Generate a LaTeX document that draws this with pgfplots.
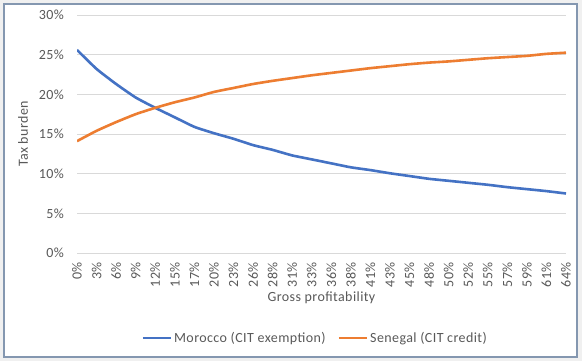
\documentclass[border=0pt]{standalone}
\usepackage{pgfplots}
\pgfplotsset{compat=1.18}
\usepackage{fontspec}
\setmainfont{Carlito}[LetterSpace=3]
\definecolor{txt}{HTML}{595959}
\definecolor{grd}{HTML}{D9D9D9}
\definecolor{mblue}{HTML}{4472C4}
\definecolor{morange}{HTML}{ED7D31}
\definecolor{framec}{HTML}{8497B0}
\definecolor{outerc}{HTML}{F0F0F0}
\newcommand{\fs}{\fontsize{14bp}{16bp}\selectfont}
\begin{document}
\begin{tikzpicture}
\fill[outerc] (0bp,0bp) rectangle (582bp,361bp);
\fill[white] (4bp,4bp) rectangle (577bp,357bp);
\draw[framec, line width=1.2bp] (4bp,4bp) rectangle (577bp,357bp);
\begin{axis}[
  at={(77bp,108bp)}, anchor=south west,
  scale only axis, width=489bp, height=238bp,
  xmin=0, xmax=25, ymin=0, ymax=30,
  axis line style={draw=none},
  major tick length=0pt,
  ymajorgrids, grid style={grd, line width=0.75bp},
  ytick={0,5,10,15,20,25,30},
  yticklabels={0\%,5\%,10\%,15\%,20\%,25\%,30\%},
  xtick={0,...,25},
  xticklabels={0\%,3\%,6\%,9\%,12\%,15\%,17\%,20\%,23\%,26\%,28\%,31\%,33\%,36\%,38\%,41\%,43\%,45\%,48\%,50\%,52\%,55\%,57\%,59\%,61\%,64\%},
  tick label style={font=\fs, text=txt},
  yticklabel style={inner sep=0pt, anchor=east, xshift=-13bp},
  xticklabel style={inner sep=0pt, yshift=-9bp, rotate=90, anchor=east},
  xlabel={Gross profitability}, ylabel={Tax burden},
  every axis x label/.style={at={(axis description cs:0.5,0)}, yshift=-45bp, anchor=center, font=\fs, text=txt},
  every axis y label/.style={at={(axis description cs:0,0.5)}, xshift=-54bp, rotate=90, anchor=center, font=\fs, text=txt},
  legend columns=2,
  legend style={at={(axis description cs:0.487,-0.357)}, anchor=center, draw=none, fill=none,
    font=\fs, text=txt,
    /tikz/every even column/.append style={column sep=10bp}},
  legend cell align=left,
  legend image code/.code={\draw[#1] (0bp,0bp) -- (28bp,0bp);},
  every axis plot/.append style={line width=2.6bp, line join=round},
]
\addplot[mblue, smooth, tension=0.3] coordinates {
(0,25.6) (1,23.2) (2,21.3) (3,19.6) (4,18.3) (5,17.1) (6,15.9) (7,15.1) (8,14.4) (9,13.6)
(10,13.0) (11,12.3) (12,11.8) (13,11.3) (14,10.8) (15,10.45) (16,10.05) (17,9.7) (18,9.35)
(19,9.1) (20,8.85) (21,8.6) (22,8.3) (23,8.05) (24,7.8) (25,7.5)};
\addlegendentry{Morocco (CIT exemption)}
\addplot[morange, smooth, tension=0.3] coordinates {
(0,14.1) (1,15.4) (2,16.5) (3,17.5) (4,18.3) (5,19.0) (6,19.6) (7,20.3) (8,20.8) (9,21.3)
(10,21.7) (11,22.05) (12,22.4) (13,22.7) (14,23.0) (15,23.3) (16,23.55) (17,23.8) (18,24.0)
(19,24.15) (20,24.35) (21,24.55) (22,24.7) (23,24.85) (24,25.1) (25,25.25)};
\addlegendentry{Senegal (CIT credit)}
\end{axis}
\end{tikzpicture}
\end{document}
